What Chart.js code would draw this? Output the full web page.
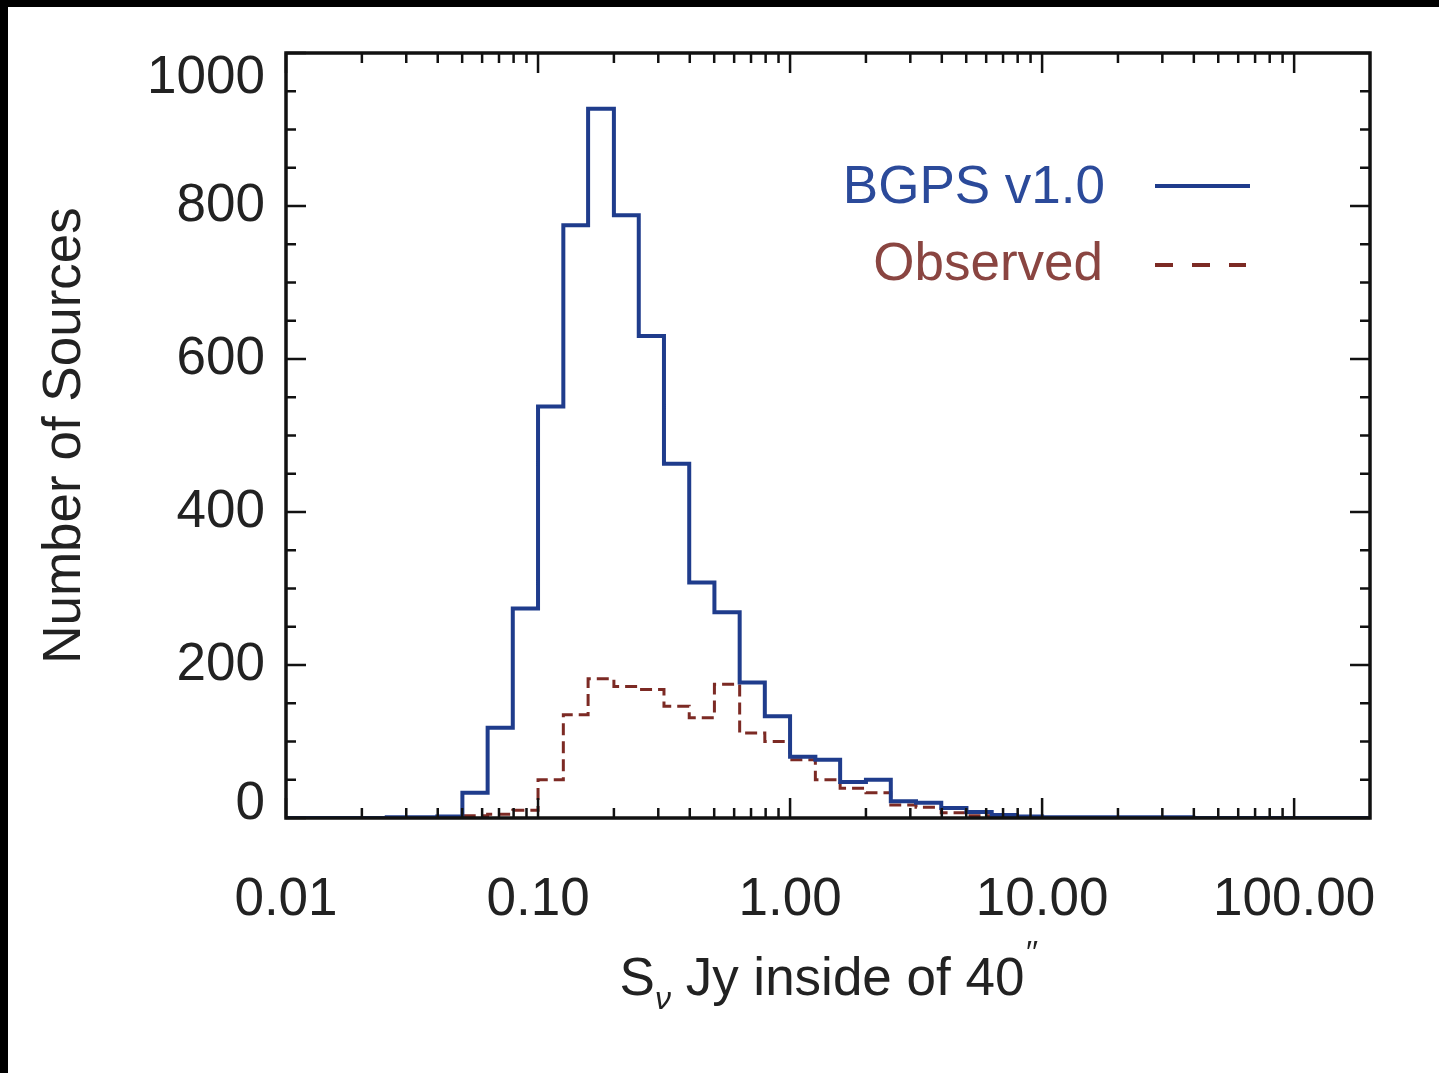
<!DOCTYPE html>
<html>
<head>
<meta charset="utf-8">
<script src="https://cdn.jsdelivr.net/npm/chart.js@4"></script>
<style>
  body { margin: 0; background: #000; }
  #wrap { position: absolute; left: 8px; top: 7px; width: 1431px; height: 1066px; background: #fff; }
</style>
</head>
<body>
<div id="wrap"><canvas id="fluxHist"></canvas></div>
<script>
// bin edges in Jy (0.1 dex wide bins)
var binEdges = [0.0100, 0.0126, 0.0158, 0.0200, 0.0251, 0.0316, 0.0398, 0.0501, 0.0631, 0.0794,
                0.100, 0.126, 0.158, 0.200, 0.251, 0.316, 0.398, 0.501, 0.631, 0.794,
                1.00, 1.26, 1.58, 2.00, 2.51, 3.16, 3.98, 5.01, 6.31, 7.94,
                10.0, 12.6, 15.8, 20.0, 25.1, 31.6, 39.8, 50.1, 63.1, 79.4,
                100, 126, 158, 200];

var bgpsCounts = [0, 0, 0, 0, 1, 1, 2, 33, 118, 274,
                  538, 775, 927, 788, 630, 463, 308, 269, 177, 133,
                  80, 76, 47, 50, 22, 20, 13, 8, 4, 2,
                  1, 1, 1, 1, 1, 1, 0, 0, 0, 0,
                  0, 0, 0];

var observedCounts = [0, 0, 0, 0, 0, 0, 0, 3, 5, 10,
                      50, 135, 182, 172, 168, 146, 131, 175, 111, 100,
                      76, 50, 39, 33, 17, 14, 7, 3, 1, 0,
                      0, 0, 0, 0, 0, 0, 0, 0, 0, 0,
                      0, 0, 0];

var xMajor = [0.01, 0.1, 1, 10, 100];
var xLabels = ['0.01', '0.10', '1.00', '10.00', '100.00'];
var yMajor = [0, 200, 400, 600, 800, 1000];
var yLabels = ['0', '200', '400', '600', '800', '1000'];

var seriesNames = ['BGPS v1.0', 'Observed'];
var blue = '#1f3c8c';
var red = '#7c2a24';
var font = '"Liberation Sans", Arial, Helvetica, sans-serif';

function stepPoints(counts) {
    var pts = [];
    for (var i = 0; i < counts.length; i++) {
        pts.push({ x: binEdges[i], y: counts[i] });
    }
    pts.push({ x: binEdges[counts.length], y: counts[counts.length - 1] });
    return pts;
}

// frame + inward ticks like the IDL plot
var frameTicks = {
    id: 'frameTicks',
    afterDatasetsDraw: function(chart) {
        var ctx = chart.ctx, a = chart.chartArea;
        var xs = chart.scales.x, ys = chart.scales.y;
        ctx.save();
        ctx.strokeStyle = '#111';
        ctx.lineWidth = 2.5;
        ctx.beginPath();
        var xt = [];
        xMajor.forEach(function(v, i) {
            xt.push([v, 20]);
            if (i < xMajor.length - 1) {
                for (var m = 2; m <= 9; m++) xt.push([v * m, 10]);
            }
        });
        xt.forEach(function(t) {
            var px = xs.getPixelForValue(t[0]);
            ctx.moveTo(px, a.bottom); ctx.lineTo(px, a.bottom - t[1]);
            ctx.moveTo(px, a.top); ctx.lineTo(px, a.top + t[1]);
        });
        for (var v = 0; v <= 1000; v += 50) {
            var len = (v % 200 === 0) ? 20 : 10;
            var py = ys.getPixelForValue(v);
            ctx.moveTo(a.left, py); ctx.lineTo(a.left + len, py);
            ctx.moveTo(a.right, py); ctx.lineTo(a.right - len, py);
        }
        ctx.stroke();
        ctx.lineWidth = 3.5;
        ctx.strokeRect(a.left, a.top, a.right - a.left, a.bottom - a.top);
        ctx.restore();
    },
    afterDraw: function(chart) {
        var ctx = chart.ctx, a = chart.chartArea, ys = chart.scales.y;
        ctx.save();
        // y tick labels, end labels nudged inside like IDL does
        ctx.font = '53px ' + font;
        ctx.fillStyle = '#222';
        ctx.textAlign = 'right';
        ctx.textBaseline = 'middle';
        yMajor.forEach(function(v, i) {
            var py = ys.getPixelForValue(v);
            if (i === 0) py -= 14;
            if (i === yMajor.length - 1) py += 25;
            ctx.fillText(yLabels[i], a.left - 21, py);
        });

        // legend: text then line sample
        ctx.fillStyle = '#2b4a9a';
        ctx.fillText(seriesNames[0], 1097, 181);
        ctx.fillStyle = '#8a4541';
        ctx.fillText(seriesNames[1], 1095, 258);
        ctx.lineWidth = 4;
        ctx.strokeStyle = blue;
        ctx.beginPath(); ctx.moveTo(1147, 179); ctx.lineTo(1242, 179); ctx.stroke();
        ctx.strokeStyle = red;
        ctx.setLineDash([18, 19]);
        ctx.beginPath(); ctx.moveTo(1147, 258); ctx.lineTo(1238, 258); ctx.stroke();
        ctx.setLineDash([]);

        // x title with subscript nu and double prime
        var big = '53px ' + font, small = 'italic 32px ' + font;
        var parts = [['S', big, 0], ['\u03bd', small, 14], [' Jy inside of 40', big, 0], ['\u2032\u2032', small, -32]];
        var w = 0;
        parts.forEach(function(p) { ctx.font = p[1]; w += ctx.measureText(p[0]).width; });
        var cx = (a.left + a.right) / 2 - w / 2;
        var by = a.bottom + 177;
        ctx.textAlign = 'left';
        ctx.textBaseline = 'alphabetic';
        ctx.fillStyle = '#222';
        parts.forEach(function(p) {
            ctx.font = p[1];
            ctx.fillText(p[0], cx, by + p[2]);
            cx += ctx.measureText(p[0]).width;
        });
        ctx.restore();
    }
};

var ctx = document.getElementById('fluxHist').getContext('2d');
var fluxHist = new Chart(ctx, {
    type: 'line',
    data: {
        datasets: [{
            label: seriesNames[0],
            data: stepPoints(bgpsCounts),
            borderColor: blue,
            borderWidth: 4,
            stepped: 'before',
            pointRadius: 0,
            fill: false
        },
        {
            label: seriesNames[1],
            data: stepPoints(observedCounts),
            borderColor: red,
            borderWidth: 3,
            borderDash: [12, 6],
            stepped: 'before',
            pointRadius: 0,
            fill: false
        }]
    },
    options: {
        responsive: true,
        maintainAspectRatio: false,
        animation: false,
        devicePixelRatio: 1,
        layout: { padding: { top: 46, right: 69, left: 0, bottom: 0 } },
        plugins: { legend: { display: false }, tooltip: { enabled: false } },
        scales: {
            x: {
                type: 'logarithmic',
                min: 0.01,
                max: 200,
                grid: { display: false },
                border: { display: false },
                afterBuildTicks: function(s) {
                    s.ticks = xMajor.map(function(v) { return { value: v }; });
                },
                afterFit: function(s) { s.height = 255; },
                ticks: {
                    autoSkip: false,
                    maxRotation: 0,
                    padding: 43,
                    color: '#222',
                    font: { family: font, size: 53 },
                    callback: function(v, i) { return xLabels[i]; }
                }
            },
            y: {
                min: 0,
                max: 1000,
                grid: { display: false },
                border: { display: false },
                afterBuildTicks: function(s) {
                    s.ticks = yMajor.map(function(v) { return { value: v }; });
                },
                afterFit: function(s) { s.width = 278; },
                ticks: { display: false },
                title: {
                    display: true,
                    text: 'Number of Sources',
                    color: '#222',
                    padding: { top: 26, bottom: 0 },
                    font: { family: font, size: 53 }
                }
            }
        }
    },
    plugins: [frameTicks]
});
</script>
</body>
</html>
